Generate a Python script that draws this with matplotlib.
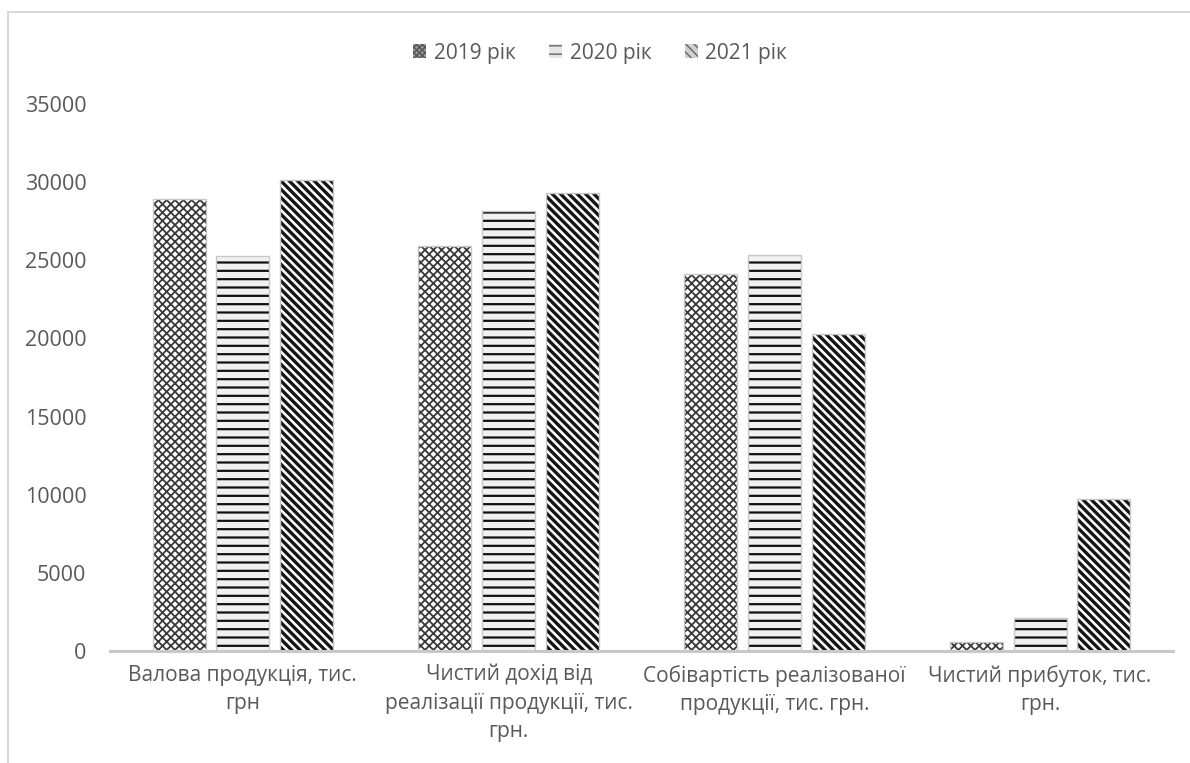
import matplotlib
matplotlib.use("Agg")
import matplotlib.pyplot as plt
from matplotlib.patches import Patch
from matplotlib.lines import Line2D
import numpy as np

categories = ["Валова продукція, тис.\nгрн",
              "Чистий дохід від\nреалізації продукції, тис.\nгрн.",
              "Собівартість реалізованої\nпродукції, тис. грн.",
              "Чистий прибуток, тис.\nгрн."]
series_names = ["2019 рік", "2020 рік", "2021 рік"]
v2019 = [28900, 25900, 24100, 580]
v2020 = [25250, 28150, 25350, 2100]
v2021 = [30150, 29300, 20300, 9720]

plt.rcParams['font.family'] = ['Open Sans', 'DejaVu Sans']
text_col = '#595959'

fig = plt.figure(figsize=(11.9, 7.63), dpi=100)
ax = fig.add_axes([110/1190, 1-651/763, (1173-110)/1190, (651-104)/763])

x = np.arange(len(categories))
w = 0.2
step = 0.24
styles = [
    dict(hatch='xxxx', facecolor='white', edgecolor='#3a3a3a'),
    dict(hatch='--', facecolor='#f1f1f1', edgecolor='#111111'),
    dict(hatch='\\\\\\\\', facecolor='white', edgecolor='#151515'),
]
hatch_lw = [1.3, 1.6, 2.4]
# legend swatches are small, so give them a greyer look like the reference
leg_styles = [
    dict(hatch='xxxxxx', facecolor='#9a9a9a', edgecolor='#555555'),
    dict(hatch='--', facecolor='#e6e6e6', edgecolor='#666666'),
    dict(hatch='\\\\\\\\', facecolor='#d0d0d0', edgecolor='#666666'),
]
handles = []
for i, (vals, st) in enumerate(zip([v2019, v2020, v2021], styles)):
    with plt.rc_context({'hatch.linewidth': hatch_lw[i]}):
        ax.bar(x + (i - 1) * step, vals, w, linewidth=0, **st)
        handles.append(Patch(linewidth=0, **leg_styles[i]))
    ax.bar(x + (i - 1) * step, vals, w, facecolor='none', edgecolor='#c8c8c8', linewidth=1.0)

ax.set_xlim(-0.5, 3.5)
ax.set_ylim(0, 35000)
ax.set_yticks(np.arange(0, 35001, 5000))
ax.set_xticks(x)
ax.set_xticklabels(categories, linespacing=1.45)
ax.tick_params(axis='both', length=0, labelcolor=text_col)
ax.tick_params(axis='y', pad=17, labelsize=15.5)
ax.tick_params(axis='x', pad=10, labelsize=15)
for s in ['top', 'right', 'left']:
    ax.spines[s].set_visible(False)
ax.spines['bottom'].set_color('#c8c8c8')
ax.spines['bottom'].set_linewidth(2.2)

leg = fig.legend(handles, series_names, loc='center', bbox_to_anchor=(600/1190, 1-53/763),
                 ncol=3, frameon=False, fontsize=15, handlelength=0.65, handleheight=0.65,
                 handletextpad=0.35, columnspacing=1.6)
for t in leg.get_texts():
    t.set_color(text_col)

# outer chart frame (partly cropped)
fig.add_artist(Line2D([8/1190, 8/1190], [0, 1-12/763], color='#d9d9d9', linewidth=1.5))
fig.add_artist(Line2D([8/1190, 1], [1-12/763, 1-12/763], color='#d9d9d9', linewidth=1.5))

fig.savefig('out.png', dpi=100)
